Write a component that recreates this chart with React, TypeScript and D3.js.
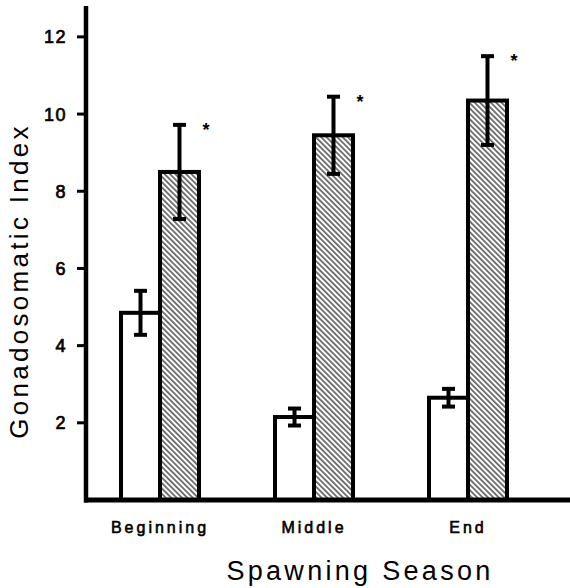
import React from "react";
import * as d3 from "d3";

// Gonadosomatic index across the spawning season
const categories = ["Beginning", "Middle", "End"];
const openMeans = [4.85, 2.15, 2.65];
const openErrors = [0.57, 0.22, 0.23];
const hatchedMeans = [8.5, 9.45, 10.35];
const hatchedErrors = [1.22, 1.0, 1.15];
const significant = [true, true, true];
const yTicks = [2, 4, 6, 8, 10, 12];

const W = 570;
const H = 588;
const axisX = 86;
const baseY = 500;
const barW = 39;
const font = "'Liberation Sans', Arial, Helvetica, sans-serif";

export default function App() {
  const y = d3.scaleLinear().domain([0, 12.8]).range([baseY, 6]);
  const x = d3.scaleBand<string>().domain(categories).range([83, 545]);
  const center = (c: string) => (x(c) as number) + x.bandwidth() / 2;

  const errorBar = (cx: number, mean: number, err: number, key: string) => {
    const top = y(mean + err);
    const bot = y(mean - err);
    return (
      <g key={key}>
        <line x1={cx} x2={cx} y1={top} y2={bot} stroke="#000" strokeWidth={4} />
        <line x1={cx - 6.5} x2={cx + 6.5} y1={top} y2={top} stroke="#000" strokeWidth={4} />
        <line x1={cx - 6.5} x2={cx + 6.5} y1={bot} y2={bot} stroke="#000" strokeWidth={4} />
      </g>
    );
  };

  return (
    <svg
      width={W}
      height={H}
      style={{ position: "absolute", left: 0, top: 0, background: "#fff" }}
    >
      <defs>
        <pattern
          id="hatch"
          patternUnits="userSpaceOnUse"
          width={3.8}
          height={3.8}
          patternTransform="rotate(-45)"
        >
          <rect width={3.8} height={3.8} fill="#fff" />
          <line x1={0.9} x2={0.9} y1={0} y2={3.8} stroke="#000" strokeWidth={1.05} />
        </pattern>
      </defs>
      <rect width={W} height={H} fill="#fff" />

      {/* bars */}
      {categories.map((c, i) => {
        const cx = center(c);
        const oTop = y(openMeans[i]);
        const hTop = y(hatchedMeans[i]);
        return (
          <g key={c}>
            <rect
              x={cx - barW}
              y={oTop}
              width={barW}
              height={baseY - oTop}
              fill="#fff"
              stroke="#000"
              strokeWidth={4}
            />
            <rect
              x={cx}
              y={hTop}
              width={barW}
              height={baseY - hTop}
              fill="url(#hatch)"
              stroke="#000"
              strokeWidth={4}
            />
            {errorBar(cx - barW / 2, openMeans[i], openErrors[i], c + "o")}
            {errorBar(cx + barW / 2, hatchedMeans[i], hatchedErrors[i], c + "h")}
            {significant[i] && (
              <text
                x={cx + barW + 7}
                y={y(hatchedMeans[i] + hatchedErrors[i]) + 11}
                fontFamily={font}
                fontSize={18}
                fontWeight="bold"
                textAnchor="middle"
              >
                *
              </text>
            )}
          </g>
        );
      })}

      {/* axes */}
      <line x1={axisX} x2={axisX} y1={y(12.8)} y2={baseY + 2.5} stroke="#000" strokeWidth={4.5} />
      <line x1={axisX - 2} x2={W} y1={baseY} y2={baseY} stroke="#000" strokeWidth={5} />
      {yTicks.map((t) => (
        <g key={t}>
          <line x1={axisX - 9} x2={axisX} y1={y(t)} y2={y(t)} stroke="#000" strokeWidth={3} />
          <text
            x={axisX - 19}
            y={y(t)}
            dy="0.36em"
            textAnchor="end"
            fontFamily={font}
            fontSize={18}
            fill="#000"
            stroke="#000"
            strokeWidth={0.7}
            letterSpacing={1.5}
          >
            {t}
          </text>
        </g>
      ))}

      {categories.map((c) => (
        <text
          key={c}
          x={center(c)}
          y={533}
          textAnchor="middle"
          fontFamily={font}
          fontSize={16}
          fill="#000"
          stroke="#000"
          strokeWidth={0.6}
          letterSpacing={3}
        >
          {c}
        </text>
      ))}

      <text
        x={360}
        y={580}
        textAnchor="middle"
        fontFamily={font}
        fontSize={27}
        letterSpacing={3.3}
      >
        Spawning Season
      </text>
      <text
        transform={`translate(28, 281) rotate(-90)`}
        textAnchor="middle"
        fontFamily={font}
        fontSize={26}
        letterSpacing={3.3}
      >
        Gonadosomatic Index
      </text>
    </svg>
  );
}
